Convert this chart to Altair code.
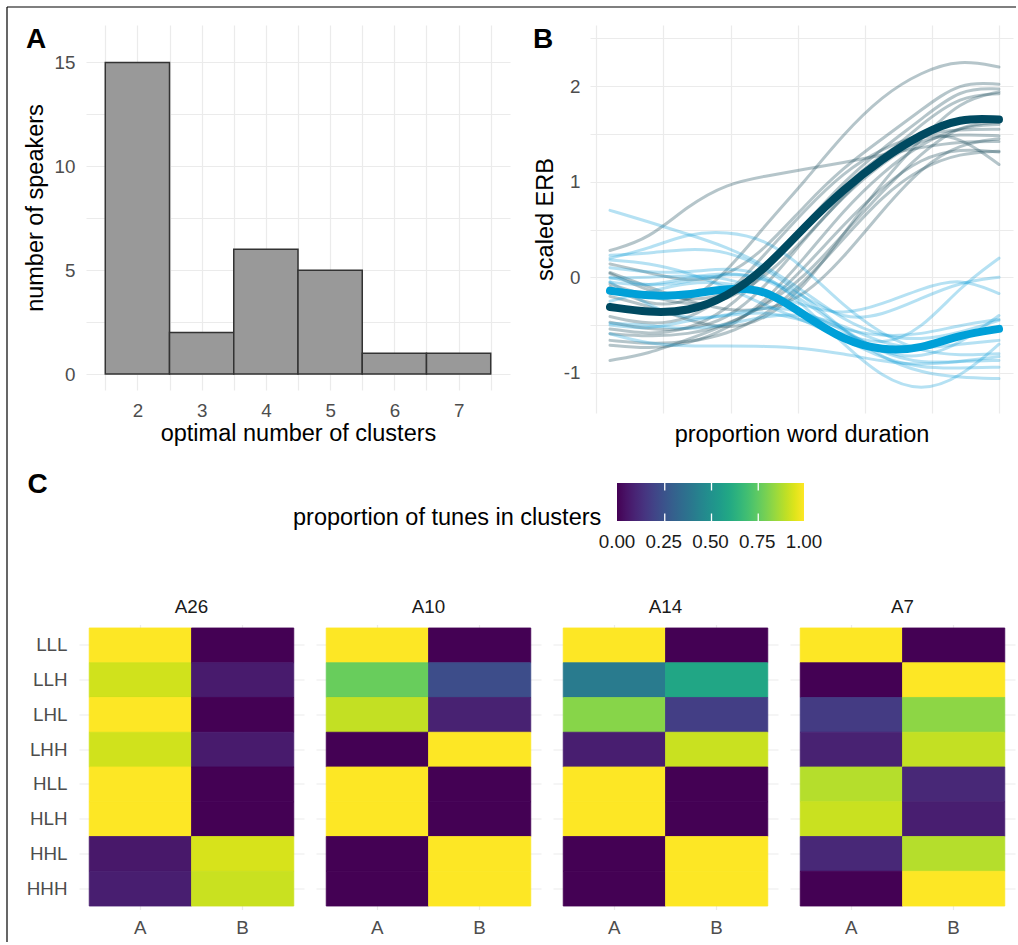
import altair as alt
import pandas as pd

FONT = "Liberation Sans"
GRID = "#ebebeb"
AXIS_GREY = "#4d4d4d"
INK = "#1a1a1a"

# ---------------- A: optimal number of clusters per speaker
K_CLUSTERS = [2, 3, 4, 5, 6, 7]
N_SPEAKERS = [15, 2, 6, 5, 1, 1]
A_XGRID = [1.5, 2, 2.5, 3, 3.5, 4, 4.5, 5, 5.5, 6, 6.5, 7, 7.5]
A_YGRID = [0, 2.5, 5, 7.5, 10, 12.5, 15]

# ---------------- B: scaled ERB contours over normalised word duration
T = [0.0, 0.1, 0.2, 0.3, 0.4, 0.5, 0.6, 0.7, 0.8, 0.9, 1.0]
RISE_MEAN = [-0.31, -0.37, -0.36, -0.21, 0.09, 0.53, 0.92, 1.24, 1.50, 1.67, 1.65]
FALL_MEAN = [-0.14, -0.20, -0.19, -0.11, -0.12, -0.40, -0.66, -0.77, -0.75, -0.60, -0.54]
RISE_SPEAKERS = [
    [0.28, 0.40, 0.75, 0.98, 1.06, 1.13, 1.20, 1.28, 1.36, 1.42, 1.42],
    [-0.10, -0.30, -0.28, 0.05, 0.55, 1.00, 1.50, 1.90, 2.15, 2.28, 2.20],
    [0.14, 0.05, -0.05, 0.00, 0.30, 0.75, 1.15, 1.45, 1.75, 2.05, 2.02],
    [0.04, -0.15, -0.25, -0.20, 0.10, 0.55, 1.00, 1.35, 1.65, 1.98, 1.97],
    [-0.07, -0.20, -0.30, -0.25, 0.00, 0.40, 0.85, 1.25, 1.60, 1.90, 1.92],
    [-0.41, -0.50, -0.45, -0.20, 0.25, 0.70, 1.10, 1.35, 1.50, 1.55, 1.55],
    [-0.47, -0.55, -0.55, -0.45, -0.10, 0.40, 0.85, 1.20, 1.45, 1.50, 1.48],
    [-0.54, -0.60, -0.55, -0.35, 0.05, 0.55, 0.95, 1.30, 1.50, 1.48, 1.18],
    [-0.59, -0.62, -0.60, -0.50, -0.30, 0.10, 0.55, 0.95, 1.25, 1.35, 1.31],
    [-0.66, -0.70, -0.68, -0.60, -0.40, -0.05, 0.40, 0.85, 1.15, 1.30, 1.32],
    [-0.71, -0.75, -0.70, -0.55, -0.25, 0.20, 0.70, 1.10, 1.40, 1.58, 1.60],
    [-0.87, -0.80, -0.65, -0.50, -0.30, 0.00, 0.45, 0.90, 1.30, 1.60, 1.62],
    [-0.20, -0.30, -0.45, -0.55, -0.45, -0.10, 0.45, 1.00, 1.45, 1.85, 1.94],
    [0.05, -0.10, -0.25, -0.35, -0.35, -0.20, 0.20, 0.70, 1.15, 1.40, 1.45],
]
FALL_SPEAKERS = [
    [0.70, 0.58, 0.45, 0.32, 0.12, -0.15, -0.45, -0.62, -0.66, -0.58, -0.45],
    [0.20, 0.30, 0.46, 0.48, 0.40, 0.10, -0.30, -0.60, -0.78, -0.82, -0.80],
    [0.23, 0.25, 0.30, 0.28, 0.10, -0.20, -0.55, -0.85, -1.00, -1.05, -1.06],
    [0.10, 0.05, 0.05, 0.10, 0.05, -0.30, -0.70, -1.05, -1.20, -1.05, -0.70],
    [0.00, -0.10, -0.05, 0.05, 0.00, -0.25, -0.55, -0.80, -0.85, -0.70, -0.40],
    [-0.05, -0.30, -0.45, -0.40, -0.30, -0.35, -0.55, -0.80, -0.90, -0.88, -0.87],
    [-0.50, -0.55, -0.45, -0.40, -0.35, -0.45, -0.60, -0.72, -0.55, -0.10, 0.20],
    [-0.05, -0.10, 0.00, 0.05, 0.00, -0.20, -0.45, -0.40, -0.22, -0.05, 0.00],
    [-0.25, -0.15, -0.05, -0.05, -0.15, -0.30, -0.40, -0.28, -0.12, 0.00, -0.17],
    [-0.59, -0.70, -0.72, -0.72, -0.72, -0.74, -0.80, -0.88, -0.92, -0.88, -0.83],
    [-0.48, -0.50, -0.55, -0.50, -0.40, -0.38, -0.50, -0.70, -0.75, -0.70, -0.66],
    [0.18, 0.15, 0.05, -0.10, -0.30, -0.45, -0.65, -0.85, -0.95, -0.95, -0.94],
    [-0.01, 0.00, 0.02, 0.00, -0.15, -0.40, -0.55, -0.62, -0.60, -0.50, -0.44],
]
B_XGRID = [-0.036, 0.136, 0.311, 0.483, 0.656, 0.828, 1.0]
B_YGRID = [-1, -0.5, 0, 0.5, 1, 1.5, 2, 2.5]

# ---------------- C: share of each tune falling in clusters A / B
PANELS = ["A26", "A10", "A14", "A7"]
TUNES = ["LLL", "LLH", "LHL", "LHH", "HLL", "HLH", "HHL", "HHH"]
CLUSTERS = ["A", "B"]
SHARE_A = {
    "A26": [1.00, 0.93, 1.00, 0.93, 1.00, 1.00, 0.06, 0.08],
    "A10": [1.00, 0.77, 0.91, 0.00, 1.00, 1.00, 0.00, 0.00],
    "A14": [1.00, 0.41, 0.82, 0.08, 1.00, 1.00, 0.00, 0.00],
    "A7": [1.00, 0.00, 0.17, 0.09, 0.89, 0.92, 0.11, 0.00],
}
SHARE_B = {
    "A26": [0.00, 0.07, 0.00, 0.07, 0.00, 0.00, 0.94, 0.92],
    "A10": [0.00, 0.23, 0.09, 1.00, 0.00, 0.00, 1.00, 1.00],
    "A14": [0.00, 0.59, 0.18, 0.92, 0.00, 0.00, 1.00, 1.00],
    "A7": [0.00, 1.00, 0.83, 0.91, 0.11, 0.08, 0.89, 1.00],
}
# colourbar label positions (ends nudged inside so every label is centred)
LEGEND_TICKS = [0.0001, 0.25, 0.5, 0.75, 0.9999]
# inner colourbar ticks, drawn as white notches on the bar
BAR_NOTCHES = [0.25, 0.5, 0.75]

# ---------------------------------------------------------------- tables
hist = pd.DataFrame({"k": K_CLUSTERS, "n": N_SPEAKERS})


def long_lines(series, prefix):
    rows = []
    for i, vals in enumerate(series):
        for t, v in zip(T, vals):
            rows.append({"line": f"{prefix}{i}", "t": t, "erb": v})
    return pd.DataFrame(rows)


rise_thin = long_lines(RISE_SPEAKERS, "r")
fall_thin = long_lines(FALL_SPEAKERS, "f")
rise_mean = long_lines([RISE_MEAN], "rm")
fall_mean = long_lines([FALL_MEAN], "fm")

cells = pd.DataFrame(
    [
        {"panel": p, "tune": tune, "cluster": c, "share": share[p][j]}
        for p in PANELS
        for c, share in zip(CLUSTERS, [SHARE_A, SHARE_B])
        for j, tune in enumerate(TUNES)
    ]
)


def tag(letter, x, y):
    return (
        alt.Chart(pd.DataFrame({"tag": [letter]}))
        .mark_text(font=FONT, fontSize=28, fontWeight="bold", align="left",
                   baseline="alphabetic", color="black")
        .encode(text="tag:N", x=alt.value(x), y=alt.value(y))
    )


def frame_rule(**enc):
    return (
        alt.Chart(pd.DataFrame({"edge": [1]}))
        .mark_rule(color="black", strokeWidth=1.2)
        .encode(**enc)
    )


# ---------------------------------------------------------------- figure frame
frame = alt.layer(
    frame_rule(x=alt.value(2), x2=alt.value(1011), y=alt.value(-18)),
    frame_rule(x=alt.value(2), y=alt.value(-18), y2=alt.value(917)),
).properties(width=1, height=365)

# ---------------------------------------------------------------- panel A
a_x = alt.X(
    "lo:Q",
    scale=alt.Scale(domain=[1.2, 7.8], nice=False, zero=False),
    axis=alt.Axis(values=A_XGRID,
                  labelExpr="datum.value % 1 === 0 ? format(datum.value, 'd') : ''",
                  labelOverlap=False, labelFlush=False, labelPadding=11.5,
                  titlePadding=1, title="optimal number of clusters"),
)
a_y = alt.Y(
    "n:Q",
    scale=alt.Scale(domain=[-0.77, 16.8], nice=False, zero=False),
    axis=alt.Axis(values=A_YGRID,
                  labelExpr="datum.value % 5 === 0 ? format(datum.value, 'd') : ''",
                  labelOverlap=False, labelFlush=False, labelPadding=11,
                  titlePadding=6.5, title="number of speakers"),
)
bars = (
    alt.Chart(hist)
    .transform_calculate(lo="datum.k - 0.5", hi="datum.k + 0.5")
    .mark_rect(fill="#999999", stroke="#333333", strokeWidth=1.5)
    .encode(x=a_x, x2="hi:Q", y=a_y, y2=alt.datum(0))
)
panel_a = alt.layer(bars, tag("A", -60, 23)).properties(width=424, height=365)

# ---------------------------------------------------------------- panel B
b_x = alt.X(
    "t:Q",
    scale=alt.Scale(domain=[-0.0514, 1.036], nice=False, zero=False),
    axis=alt.Axis(values=B_XGRID, labels=False, titlePadding=9.5,
                  title="proportion word duration"),
)
b_y = alt.Y(
    "erb:Q",
    scale=alt.Scale(domain=[-1.42, 2.64], nice=False, zero=False),
    axis=alt.Axis(values=B_YGRID,
                  labelExpr="datum.value % 1 === 0 ? (datum.value < 0 ? '-' + abs(datum.value) : '' + datum.value) : ''",
                  labelOverlap=False, labelFlush=False, labelPadding=10,
                  titlePadding=6, title="scaled ERB"),
)


def contour(df, color, width, opacity):
    return (
        alt.Chart(df)
        .mark_line(color=color, strokeWidth=width, opacity=opacity,
                   interpolate="basis", strokeCap="round")
        .encode(x=b_x, y=b_y, detail="line:N")
    )


panel_b = alt.layer(
    contour(rise_thin, "#1f4e5f", 3, 0.33),
    contour(fall_thin, "#0b9ad6", 3, 0.3),
    contour(fall_mean, "#00a0d8", 8, 1),
    contour(rise_mean, "#004a61", 8, 1),
    tag("B", -57, 23),
).properties(width=423, height=388)

# ---------------------------------------------------------------- panel C
VIRIDIS = alt.Scale(scheme="viridis", domain=[0, 1])
SHARE_TITLE = "proportion of tunes in clusters"

colorbar = alt.Legend(
    orient="none", legendX=288, legendY=-141.5, direction="horizontal",
    titleOrient="left", titleAnchor="end", titleBaseline="line-bottom",
    titleLineHeight=6,
    titleFontSize=23.5, titleFont=FONT, titleFontWeight="normal", titleColor="black",
    titlePadding=15, titleLimit=420, padding=0,
    gradientLength=187, gradientThickness=38, gradientStrokeWidth=0,
    values=LEGEND_TICKS, format=".2f", labelFontSize=18.8, labelFont=FONT,
    labelColor=INK, labelOffset=12, labelOverlap=False,
)


def heat(panel, first):
    cell_x = alt.X("cluster:N", sort=CLUSTERS,
                   scale=alt.Scale(paddingInner=0, paddingOuter=0.1),
                   axis=alt.Axis(title=None, bandPosition=0.5, grid=True, labelAngle=0,
                                 labelPadding=9, zindex=0))
    cell_y = alt.Y("tune:N", sort=TUNES,
                   scale=alt.Scale(paddingInner=0, paddingOuter=0.1),
                   axis=alt.Axis(title=None, bandPosition=0.5, grid=True, labels=first,
                                 labelPadding=12, zindex=0))
    tiles = (
        alt.Chart(cells)
        .transform_filter(alt.datum.panel == panel)
        .mark_rect(opacity=1, strokeWidth=0.8)
        .encode(
            x=cell_x,
            y=cell_y,
            color=alt.Color("share:Q", title=SHARE_TITLE, scale=VIRIDIS, legend=None),
            stroke=alt.Stroke("share:Q", scale=VIRIDIS, legend=None),
        )
    )
    header = (
        alt.Chart(pd.DataFrame({"panel": [panel]}))
        .mark_text(font=FONT, fontSize=18.8, color=INK, align="center",
                   baseline="alphabetic")
        .encode(text="panel:N", x=alt.value(112.5), y=alt.value(-11.5))
    )
    layers = [tiles, header]
    if first:
        # white notches on the colourbar, on the bar's own 0..1 span
        notch_x = alt.X("v:Q", scale=alt.Scale(domain=[0, 1], range=[539, 726]),
                        axis=None)
        notches = alt.Chart(pd.DataFrame({"v": BAR_NOTCHES})).mark_rule(
            color="white", strokeWidth=1.3
        )
        layers += [
            notches.encode(x=notch_x, y=alt.value(-141.5), y2=alt.value(-134)),
            notches.encode(x=notch_x, y=alt.value(-111), y2=alt.value(-103.5)),
        ]
        return (alt.layer(*layers).resolve_scale(x="independent")
                .properties(width=225, height=285))
    return alt.layer(*layers).properties(width=225, height=285)


# panel tag and the colourbar legend live in the leading narrow cell
legend_carrier = (
    alt.Chart(cells)
    .mark_point(size=0, strokeWidth=0, opacity=1)
    .encode(
        x=alt.value(0), y=alt.value(0),
        color=alt.Color("share:Q", title=SHARE_TITLE, scale=VIRIDIS, legend=colorbar),
    )
)
panel_c_tag = alt.layer(legend_carrier, tag("C", 22.5, -131.5)).properties(
    width=62, height=285
)

top_row = alt.hconcat(frame, panel_a, panel_b, spacing=80, bounds="flush")
bottom_row = (
    alt.hconcat(
        panel_c_tag, *[heat(p, i == 0) for i, p in enumerate(PANELS)],
        spacing=12, bounds="flush",
    )
    .resolve_scale(color="shared")
    .resolve_legend(color="independent")
)

chart = (
    alt.vconcat(top_row, bottom_row, spacing=599.5, bounds="flush")
    .resolve_scale(color="independent")
    .properties(padding={"left": 5, "top": 6, "right": 0, "bottom": 0},
                background="white")
    .configure_view(stroke=None)
    .configure_axis(
        labelFont=FONT, titleFont=FONT, labelFontSize=18.8, titleFontSize=23.5,
        labelColor=AXIS_GREY, titleColor="black", titleFontWeight="normal",
        gridColor=GRID, gridWidth=1.2, domain=False, ticks=False, tickSize=0,
    )
)

chart.save("out.html", embed_options={"renderer": "svg", "actions": False})
